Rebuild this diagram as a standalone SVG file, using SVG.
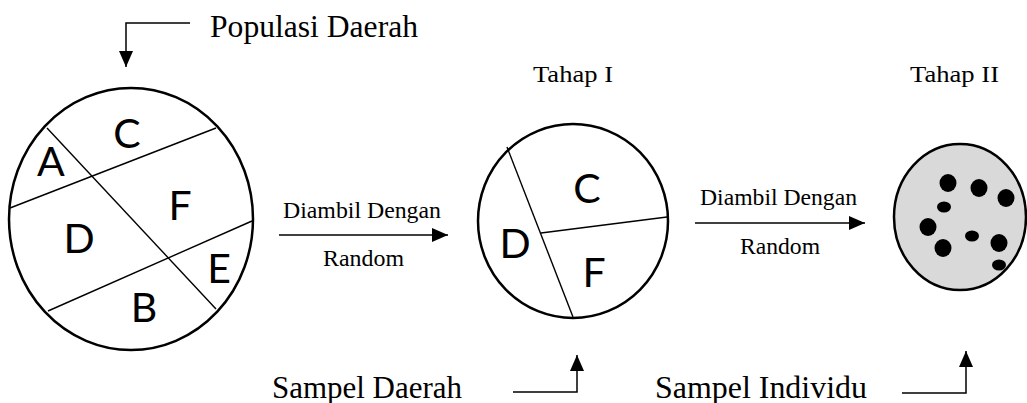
<svg xmlns="http://www.w3.org/2000/svg" width="1027" height="403" viewBox="0 0 1027 403">
<style>
.circ{fill:#fff;stroke:#000;stroke-width:2.5}
.div{stroke:#000;stroke-width:1.4;fill:none}
.lbl{font-family:"Liberation Serif","Times New Roman",serif;fill:#000}
.big{font-size:31px}
.mid{font-size:23.5px}
.reg{font-family:Lato,"Open Sans",sans-serif;font-size:41px;fill:#000;text-anchor:middle}
.con{stroke:#000;stroke-width:1.5;fill:none}
.dot{fill:#000}
</style>
<defs>
<marker id="ah" viewBox="0 0 16 14" refX="16" refY="7" markerWidth="16" markerHeight="14" markerUnits="userSpaceOnUse" orient="auto">
<path d="M0,0 L16,7 L0,14 Z" fill="#000"/>
</marker>
</defs>

<g id="populasi">
<ellipse class="circ" cx="131" cy="219" rx="122" ry="131"/>
<line class="div" x1="47" y1="128" x2="216" y2="309"/>
<line class="div" x1="10" y1="208" x2="216" y2="128"/>
<line class="div" x1="48" y1="311" x2="252" y2="221"/>
<text class="reg" x="127" y="148">C</text>
<text class="reg" x="51" y="176">A</text>
<text class="reg" x="180" y="220">F</text>
<text class="reg" x="79" y="253">D</text>
<text class="reg" x="219" y="283">E</text>
<text class="reg" x="144" y="322">B</text>
</g>

<g id="tahap1">
<ellipse class="circ" cx="573" cy="221" rx="95" ry="97"/>
<line class="div" x1="507" y1="147" x2="573" y2="317"/>
<line class="div" x1="541" y1="233" x2="667" y2="217"/>
<text class="reg" x="587" y="203">C</text>
<text class="reg" x="515" y="258">D</text>
<text class="reg" x="594" y="287">F</text>
</g>

<g id="tahap2">
<ellipse cx="960" cy="217" rx="66" ry="73" fill="#d9d9d9" stroke="#000" stroke-width="2.5"/>
<ellipse class="dot" cx="948" cy="183" rx="8.5" ry="9"/>
<ellipse class="dot" cx="979" cy="188" rx="8.5" ry="9"/>
<ellipse class="dot" cx="1006" cy="198" rx="8.5" ry="9"/>
<ellipse class="dot" cx="944" cy="207" rx="7" ry="5.5"/>
<ellipse class="dot" cx="928" cy="227" rx="8.5" ry="9"/>
<ellipse class="dot" cx="972" cy="236" rx="7" ry="5.5"/>
<ellipse class="dot" cx="943" cy="248" rx="8.5" ry="9"/>
<ellipse class="dot" cx="999" cy="243" rx="8.5" ry="9"/>
<ellipse class="dot" cx="999" cy="265" rx="7" ry="5.5"/>
</g>

<g id="labels">
<text class="lbl big" x="210" y="37" textLength="208" lengthAdjust="spacingAndGlyphs">Populasi Daerah</text>
<text class="lbl mid" x="533" y="82" textLength="80" lengthAdjust="spacingAndGlyphs">Tahap I</text>
<text class="lbl mid" x="910" y="82" textLength="89" lengthAdjust="spacingAndGlyphs">Tahap II</text>
<text class="lbl mid" x="283" y="218" textLength="158" lengthAdjust="spacingAndGlyphs">Diambil Dengan</text>
<text class="lbl mid" x="323" y="266" textLength="81" lengthAdjust="spacingAndGlyphs">Random</text>
<text class="lbl mid" x="700" y="205" textLength="157" lengthAdjust="spacingAndGlyphs">Diambil Dengan</text>
<text class="lbl mid" x="740" y="254" textLength="80" lengthAdjust="spacingAndGlyphs">Random</text>
<text class="lbl big" x="272" y="398" textLength="190" lengthAdjust="spacingAndGlyphs">Sampel Daerah</text>
<text class="lbl big" x="655" y="398" textLength="212" lengthAdjust="spacingAndGlyphs">Sampel Individu</text>
</g>

<g id="connectors">
<polyline class="con" points="190,23 126,23 126,67" marker-end="url(#ah)"/>
<line class="con" x1="279" y1="235" x2="448" y2="235" marker-end="url(#ah)"/>
<line class="con" x1="695" y1="223" x2="865" y2="223" marker-end="url(#ah)"/>
<polyline class="con" points="513,392 577,392 577,355" marker-end="url(#ah)"/>
<polyline class="con" points="902,393 966,393 966,351" marker-end="url(#ah)"/>
</g>
</svg>
